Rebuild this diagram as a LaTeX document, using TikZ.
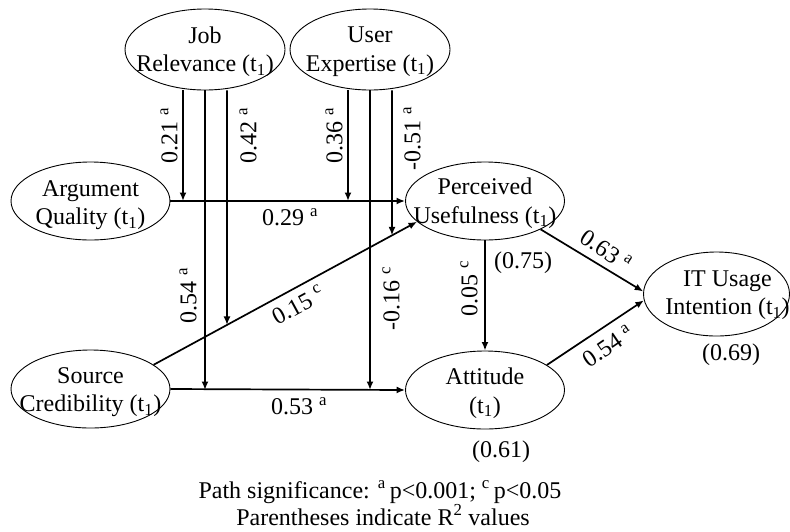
\documentclass[tikz,border=0pt]{standalone}
\usepackage{fontspec}
\setmainfont{Liberation Serif}
\usetikzlibrary{shapes.geometric,arrows.meta,calc}
\tikzset{
  var/.style={draw, ellipse, line width=0.9pt, inner sep=0pt, minimum width=159pt, minimum height=78pt},
  vtext/.style={inner sep=0pt, align=center, font=\fontsize{24}{28.5}\selectfont},
  arr/.style={line width=1.7pt, -{Latex[length=8.5pt,width=7pt]}},
  lbl/.style={inner sep=0pt, font=\fontsize{24}{28}\selectfont},
}
\newcommand{\sa}{\textsuperscript{a}}
\newcommand{\scc}{\textsuperscript{c}}
\begin{document}
\begin{tikzpicture}[x=1pt,y=-1pt]
\useasboundingbox (0,0) rectangle (790,531);
% variables
\node[var, minimum width=160pt, minimum height=81pt,
  label={[vtext, yshift=-2pt]center:Job\\Relevance (t\textsubscript{1})}] (jr) at (205,49.5) {};
\node[var, minimum width=160pt, minimum height=81pt,
  label={[vtext, yshift=-2pt]center:User\\Expertise (t\textsubscript{1})}] (ue) at (370,49.5) {};
\node[var, label={[vtext, yshift=-4pt]center:Argument\\Quality (t\textsubscript{1})}] (aq) at (90.5,201) {};
\node[var, label={[vtext, yshift=-3pt]center:Source\\Credibility (t\textsubscript{1})}] (sc) at (90.5,389) {};
\node[var, label={[vtext, yshift=-2pt]center:Perceived\\Usefulness (t\textsubscript{1})}] (pu) at (485,201) {};
\node[var, label={[vtext, yshift=-3pt]center:Attitude\\(t\textsubscript{1})}] (att) at (485,390) {};
\node[var, minimum width=146pt, minimum height=84pt,
  label={[vtext, xshift=11pt, yshift=-1pt]center:IT Usage\\Intention (t\textsubscript{1})}] (it) at (716.5,294) {};
% helper coordinates
\coordinate (d1) at (sc.21);
\coordinate (d2) at (pu.197);
\coordinate (j1) at ([xshift=-22pt]jr.south);
\coordinate (j3) at ([xshift=22pt]jr.south);
\coordinate (u1) at ([xshift=-22pt]ue.south);
\coordinate (u3) at ([xshift=22pt]ue.south);
\coordinate (j3e) at (intersection of d1--d2 and j3--{$(j3)+(0,300)$});
\coordinate (u3e) at (intersection of d1--d2 and u3--{$(u3)+(0,300)$});
% main paths
\draw[arr] (aq.east) -- (pu.west);
\draw[arr] (sc.east) -- (att.west);
\draw[arr] (d1) -- (d2);
\draw[arr] (pu.south) -- (att.north);
\draw[arr] (pu.-27) -- (it.178);
\draw[arr] (att.22) -- (it.185);
% moderators
\draw[arr] (j1) -- (j1 |- pu.west);
\draw[arr] (jr.south) -- (jr.south |- att.west);
\draw[arr] (j3) -- (j3e);
\draw[arr] (u1) -- (u1 |- pu.west);
\draw[arr] (ue.south) -- (ue.south |- att.west);
\draw[arr] (u3) -- (u3e);
% path labels
\node[lbl, rotate=90] (l1) at (169,136) {0.21 \sa};
\node[lbl, rotate=90] (l2) at (248,136) {0.42 \sa};
\node[lbl, rotate=90] (l3) at (334,136) {0.36 \sa};
\node[lbl, rotate=90] (l4) at (412,139) {-0.51 \sa};
\node[lbl, rotate=90] (l5) at (188,296) {0.54 \sa};
\node[lbl, rotate=90] (l6) at (391,299) {-0.16 \scc};
\node[lbl, rotate=90] (l7) at (469,289) {0.05 \scc};
\node[lbl] (l8) at (290,217) {0.29 \sa};
\node[lbl] (l9) at (299,406) {0.53 \sa};
\node[lbl, rotate=28.6] (l10) at (298,305) {0.15 \scc};
\node[lbl, rotate=-34] (l11) at (606,250) {0.63 \sa};
\node[lbl, rotate=34.4] (l12) at (608,346) {0.54 \sa};
% R2 values
\node[lbl] (r1) at (523,262.5) {(0.75)};
\node[lbl] (r2) at (501,452) {(0.61)};
\node[lbl] (r3) at (731,355) {(0.69)};
% footnote
\node[lbl, anchor=base] (f1) at (380,498) {Path significance: \sa\,p<0.001; \scc\,p<0.05};
\node[lbl, anchor=base] (f2) at (383,525) {Parentheses indicate R\textsuperscript{2} values};
\end{tikzpicture}
\end{document}
